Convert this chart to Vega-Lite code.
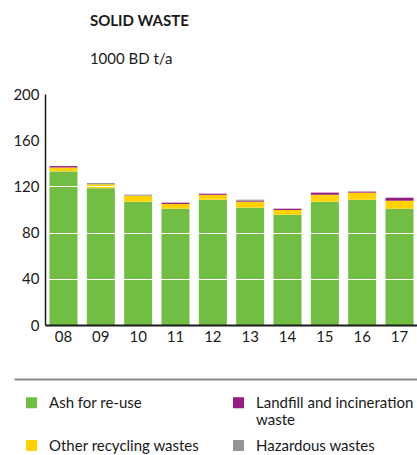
{
  "$schema": "https://vega.github.io/schema/vega-lite/v6.json",
  "padding": {"left": 12, "right": 0, "top": 14, "bottom": 0},
  "background": "white",
  "config": {
    "font": "Lato",
    "view": {"stroke": null}
  },
  "title": {
    "text": "SOLID WASTE",
    "subtitle": "1000 BD t/a",
    "anchor": "start",
    "dx": 77,
    "fontSize": 15,
    "fontWeight": "bold",
    "color": "#1a1a1a",
    "subtitleFontSize": 15,
    "subtitleColor": "#1a1a1a",
    "subtitlePadding": 23,
    "offset": 20
  },
  "data": {
    "values": [
      {"year": "08", "type": "Ash for re-use", "value": 133.0},
      {"year": "08", "type": "Other recycling wastes", "value": 3.4},
      {"year": "08", "type": "Landfill and incineration waste", "value": 1.2},
      {"year": "09", "type": "Ash for re-use", "value": 118.3},
      {"year": "09", "type": "Other recycling wastes", "value": 3.5},
      {"year": "09", "type": "Hazardous wastes", "value": 1.1},
      {"year": "10", "type": "Ash for re-use", "value": 106.8},
      {"year": "10", "type": "Other recycling wastes", "value": 5.2},
      {"year": "10", "type": "Hazardous wastes", "value": 0.9},
      {"year": "11", "type": "Ash for re-use", "value": 100.7},
      {"year": "11", "type": "Other recycling wastes", "value": 4.1},
      {"year": "11", "type": "Landfill and incineration waste", "value": 1.1},
      {"year": "12", "type": "Ash for re-use", "value": 108.5},
      {"year": "12", "type": "Other recycling wastes", "value": 4.2},
      {"year": "12", "type": "Landfill and incineration waste", "value": 1.0},
      {"year": "13", "type": "Ash for re-use", "value": 101.6},
      {"year": "13", "type": "Other recycling wastes", "value": 5.2},
      {"year": "13", "type": "Landfill and incineration waste", "value": 0.8},
      {"year": "13", "type": "Hazardous wastes", "value": 0.9},
      {"year": "14", "type": "Ash for re-use", "value": 95.5},
      {"year": "14", "type": "Other recycling wastes", "value": 4.1},
      {"year": "14", "type": "Landfill and incineration waste", "value": 1.1},
      {"year": "15", "type": "Ash for re-use", "value": 106.8},
      {"year": "15", "type": "Other recycling wastes", "value": 6.0},
      {"year": "15", "type": "Landfill and incineration waste", "value": 1.8},
      {"year": "16", "type": "Ash for re-use", "value": 108.5},
      {"year": "16", "type": "Other recycling wastes", "value": 6.1},
      {"year": "16", "type": "Landfill and incineration waste", "value": 0.9},
      {"year": "17", "type": "Ash for re-use", "value": 100.7},
      {"year": "17", "type": "Other recycling wastes", "value": 6.9},
      {"year": "17", "type": "Landfill and incineration waste", "value": 2.6}
    ]
  },
  "spacing": 35,
  "vconcat": [
    {
      "width": 373,
      "height": 231,
      "transform": [
        {"calculate": "indexof(['Ash for re-use', 'Other recycling wastes', 'Landfill and incineration waste', 'Hazardous wastes'], datum.type)", "as": "stackOrder"}
      ],
      "mark": {"type": "bar"},
      "encoding": {
        "x": {
          "field": "year",
          "type": "ordinal",
          "scale": {"paddingInner": 0.25, "paddingOuter": 0.12},
          "axis": {
            "title": null,
            "labelAngle": 0,
            "ticks": false,
            "labelPadding": 4,
            "labelFontSize": 15,
            "labelColor": "#1a1a1a",
            "domainColor": "#1a1a1a",
            "domainWidth": 2,
            "zindex": 1
          }
        },
        "y": {
          "field": "value",
          "type": "quantitative",
          "stack": "zero",
          "scale": {"domain": [0, 200]},
          "axis": {
            "title": null,
            "values": [0, 40, 80, 120, 160, 200],
            "ticks": false,
            "labelPadding": 6,
            "labelFontSize": 15,
            "labelColor": "#1a1a1a",
            "domainColor": "#1a1a1a",
            "domainWidth": 1.5,
            "grid": true,
            "gridColor": "white",
            "gridWidth": 1,
            "gridOpacity": {"condition": {"test": "datum.value === 0", "value": 0}, "value": 1},
            "zindex": 1
          }
        },
        "order": {"field": "stackOrder", "type": "quantitative", "sort": "ascending"},
        "color": {
          "field": "type",
          "type": "nominal",
          "scale": {
            "domain": ["Ash for re-use", "Other recycling wastes", "Landfill and incineration waste", "Hazardous wastes"],
            "range": ["#72be44", "#ffd200", "#951b81", "#939598"]
          },
          "legend": {
            "orient": "none",
            "legendX": -21,
            "legendY": 301,
            "columns": 2,
            "title": null,
            "padding": 0,
            "symbolType": "square",
            "symbolSize": 121,
            "symbolStrokeWidth": 0,
            "symbolOpacity": 1,
            "labelFontSize": 15,
            "labelColor": "#1a1a1a",
            "labelOffset": 10,
            "labelLimit": 170,
            "columnPadding": 31,
            "rowPadding": 10,
            "labelExpr": "datum.label == 'Landfill and incineration waste' ? ['Landfill and incineration', 'waste'] : datum.label == 'Ash for re-use' ? ['Ash for re-use', ''] : datum.label"
          }
        }
      }
    },
    {
      "width": 373,
      "height": 77,
      "mark": {"type": "rule", "opacity": 0},
      "encoding": {
        "x": {
          "datum": 0,
          "type": "quantitative",
          "scale": {"range": [-31, 373]},
          "axis": {
            "orient": "top",
            "title": null,
            "domainColor": "#8a8a8a",
            "domainWidth": 2,
            "ticks": false,
            "labels": false,
            "grid": false
          }
        }
      }
    }
  ]
}
